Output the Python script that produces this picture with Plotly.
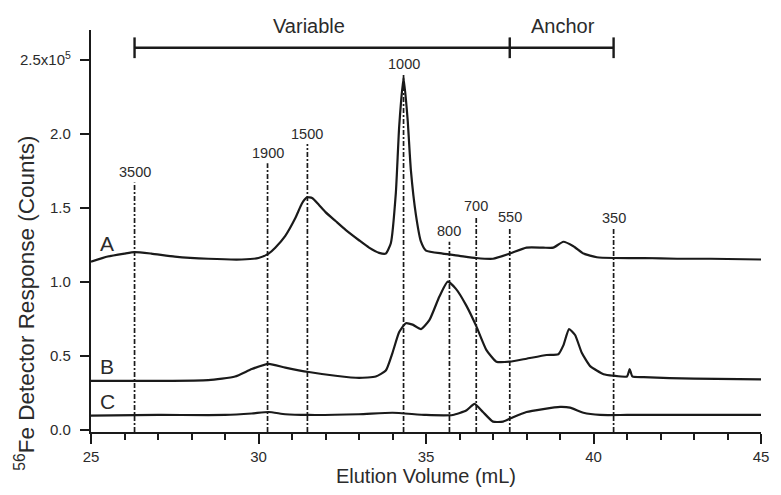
import plotly.graph_objects as go

# Trace A
a_x = [25, 25.5, 26, 26.3, 26.8, 27.5, 28.5, 29.5, 30.0, 30.3, 30.5, 30.8, 31.1, 31.3, 31.45, 31.6, 31.8, 32.0, 32.3, 32.6, 33.0, 33.3, 33.6, 33.8, 33.95, 34.1, 34.2, 34.33, 34.45, 34.55, 34.7, 34.85, 35.0, 35.5, 36.0, 36.5, 37.0, 37.5, 38.0, 38.5, 38.8, 39.1, 39.4, 39.7, 40.1, 40.6, 41.5, 42.5, 43.5, 45]
a_y = [1.135, 1.17, 1.19, 1.2, 1.19, 1.17, 1.155, 1.15, 1.16, 1.19, 1.23, 1.31, 1.43, 1.53, 1.57, 1.565, 1.52, 1.47, 1.41, 1.35, 1.28, 1.23, 1.195, 1.19, 1.26, 1.6, 2.05, 2.38, 2.1, 1.75, 1.45, 1.27, 1.21, 1.19, 1.175, 1.16, 1.155, 1.19, 1.23, 1.23, 1.23, 1.27, 1.24, 1.19, 1.165, 1.16, 1.16, 1.155, 1.155, 1.15]

# Trace B
b_x = [25, 27, 28.5, 29.3, 29.8, 30.3, 30.8, 31.5, 32.3, 33.0, 33.5, 33.8, 34.0, 34.2, 34.4, 34.6, 34.85, 35.1, 35.4, 35.65, 35.9, 36.2, 36.5, 36.8, 37.1, 37.5, 38.0, 38.6, 38.95, 39.1, 39.27, 39.45, 39.65, 39.9, 40.3, 40.6, 41.0, 41.08, 41.16, 41.5, 43, 45]
b_y = [0.33, 0.33, 0.335, 0.36, 0.41, 0.445, 0.42, 0.39, 0.365, 0.35, 0.36, 0.4, 0.52, 0.66, 0.72, 0.71, 0.68, 0.74, 0.9, 1.0, 0.95, 0.84, 0.7, 0.54, 0.46, 0.46, 0.48, 0.505, 0.51, 0.57, 0.68, 0.64, 0.52, 0.43, 0.375, 0.365, 0.36, 0.41, 0.36, 0.355, 0.345, 0.34]

# Trace C
c_x = [25, 27, 29, 29.8, 30.3, 30.8, 31.5, 33, 34, 35, 35.8, 36.2, 36.45, 36.7, 37.0, 37.3, 37.6, 38.0, 38.5, 39.0, 39.3, 39.7, 40.2, 41, 43, 45]
c_y = [0.095, 0.1, 0.1, 0.11, 0.12, 0.105, 0.1, 0.105, 0.115, 0.1, 0.1, 0.13, 0.175, 0.12, 0.055, 0.055, 0.085, 0.12, 0.14, 0.155, 0.15, 0.115, 0.1, 0.1, 0.1, 0.1]

# Molecular-size markers
mark_x = [26.3, 30.27, 31.46, 34.33, 35.7, 36.5, 37.5, 40.6]
mark_label = ["3500", "1900", "1500", "1000", "800", "700", "550", "350"]
mark_label_y = [1.74, 1.87, 2.0, 2.47, 1.34, 1.51, 1.44, 1.43]

# Region bracket
bracket_x = [26.3, 37.5, 40.6]
bracket_y = 2.58
region_names = ["Variable", "Anchor"]
region_centers = [31.5, 39.1]

trace_names = ["A", "B", "C"]
trace_label_y = [1.26, 0.43, 0.19]

y_tickvals = [0.0, 0.5, 1.0, 1.5, 2.0, 2.5]
y_ticktext = ["0.0", "0.5", "1.0", "1.5", "2.0", "2.5x10<sup>5</sup>"]

FONT = "Liberation Sans, Arial, Helvetica, sans-serif"
INK = "#1a1a1a"
TXT = "#2b2b2b"

fig = go.Figure()

# vertical dash-dot lines
for mx, ly in zip(mark_x, mark_label_y):
    fig.add_trace(go.Scatter(x=[mx, mx], y=[-0.015, ly - 0.07], mode="lines",
                             line=dict(color=INK, width=1.7, dash="5px,2px,2px,2px"),
                             hoverinfo="skip", showlegend=False))

for xs, ys in [(a_x, a_y), (b_x, b_y), (c_x, c_y)]:
    fig.add_trace(go.Scatter(x=xs, y=ys, mode="lines",
                             line=dict(color=INK, width=2.2, shape="spline", smoothing=0.5),
                             showlegend=False))

# bracket
fig.add_trace(go.Scatter(x=[bracket_x[0], bracket_x[-1]], y=[bracket_y, bracket_y], mode="lines",
                         line=dict(color=INK, width=2.4), showlegend=False, cliponaxis=False))
for bx in bracket_x:
    fig.add_trace(go.Scatter(x=[bx, bx], y=[bracket_y - 0.07, bracket_y + 0.07], mode="lines",
                             line=dict(color=INK, width=2.4), showlegend=False, cliponaxis=False))

annotations = []
for name, cx in zip(region_names, region_centers):
    annotations.append(dict(x=cx, xref="x", yref="paper", y=1.01, text=name, showarrow=False,
                            font=dict(family=FONT, size=20, color=TXT), yanchor="middle"))
for mx, lab, ly in zip(mark_x, mark_label, mark_label_y):
    annotations.append(dict(x=mx, y=ly, text=lab, showarrow=False,
                            font=dict(family=FONT, size=14.5, color=TXT), yanchor="middle"))
for name, ly in zip(trace_names, trace_label_y):
    annotations.append(dict(x=25.48, y=ly, text=name, showarrow=False,
                            font=dict(family=FONT, size=21, color=TXT), yanchor="middle"))
annotations.append(dict(xref="paper", yref="paper", x=-0.098, y=0.32,
                        text="<sup>56</sup>Fe Detector Response (Counts)", textangle=-90,
                        showarrow=False, font=dict(family=FONT, size=22.5, color=TXT),
                        xanchor="center", yanchor="middle"))

fig.update_layout(
    width=781, height=495,
    margin=dict(l=91, r=14, t=30, b=63),
    paper_bgcolor="white", plot_bgcolor="white",
    annotations=annotations,
    font=dict(family=FONT, color=TXT),
)
fig.update_xaxes(range=[25, 45], showgrid=False, zeroline=False,
                 showline=True, linecolor=INK, linewidth=2.2,
                 ticks="outside", ticklen=10, tickwidth=2.2, tickcolor=INK,
                 tick0=25, dtick=5,
                 tickfont=dict(family=FONT, size=15, color=TXT),
                 minor=dict(ticks="outside", ticklen=6, tickwidth=2, tickcolor=INK, dtick=1),
                 title=dict(text="Elution Volume (mL)", font=dict(family=FONT, size=20, color=TXT),
                            standoff=2))
fig.update_yaxes(range=[-0.015, 2.7], showgrid=False, zeroline=False,
                 showline=True, linecolor=INK, linewidth=2.2,
                 ticks="outside", ticklen=9, tickwidth=2.2, tickcolor=INK,
                 tickvals=y_tickvals, ticktext=y_ticktext, ticklabelstandoff=6,
                 tickfont=dict(family=FONT, size=15, color=TXT))

fig.write_html("out.html")
